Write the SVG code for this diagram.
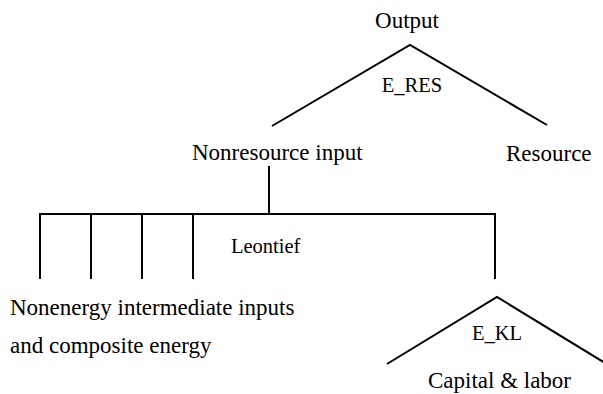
<svg xmlns="http://www.w3.org/2000/svg" width="603" height="394" viewBox="0 0 603 394">
<style>
.lg{font-size:23px}
.sm{font-size:20.5px}
.ln{stroke:#000;stroke-width:2;fill:none;stroke-linecap:butt}
</style>
<rect width="603" height="394" fill="#fff"/>
<g id="connectors">
<polyline class="ln" points="272,126 410,45 547,125"/>
<line class="ln" x1="269" y1="166" x2="269" y2="214"/>
<line class="ln" x1="39" y1="214" x2="496" y2="214"/>
<line class="ln" x1="40" y1="213" x2="40" y2="279"/>
<line class="ln" x1="91" y1="213" x2="91" y2="279"/>
<line class="ln" x1="142" y1="213" x2="142" y2="279"/>
<line class="ln" x1="193" y1="213" x2="193" y2="279"/>
<line class="ln" x1="495" y1="213" x2="495" y2="279"/>
<polyline class="ln" points="387,364 497,297 605,363"/>
</g>
<g font-family="'Liberation Serif', 'Times New Roman', 'DejaVu Serif', serif" fill="#000">
<g id="output"><text class="lg" x="407" y="27.5" text-anchor="middle" font-size="24">Output</text></g>
<g id="e_res"><text class="sm" x="412" y="91.5" text-anchor="middle">E_RES</text></g>
<g id="nonresource"><text class="lg" x="192" y="160">Nonresource input</text></g>
<g id="resource"><text class="lg" x="506" y="161">Resource</text></g>
<g id="leontief"><text class="sm" x="231" y="252.5">Leontief</text></g>
<g id="nonenergy"><text class="lg" x="10" y="315">Nonenergy intermediate inputs</text><text class="lg" x="10" y="353">and composite energy</text></g>
<g id="e_kl"><text class="sm" x="497" y="340" text-anchor="middle">E_KL</text></g>
<g id="capital"><text class="lg" x="499.5" y="387.5" text-anchor="middle" font-size="23.7">Capital &amp; labor</text></g>
</g>
</svg>
